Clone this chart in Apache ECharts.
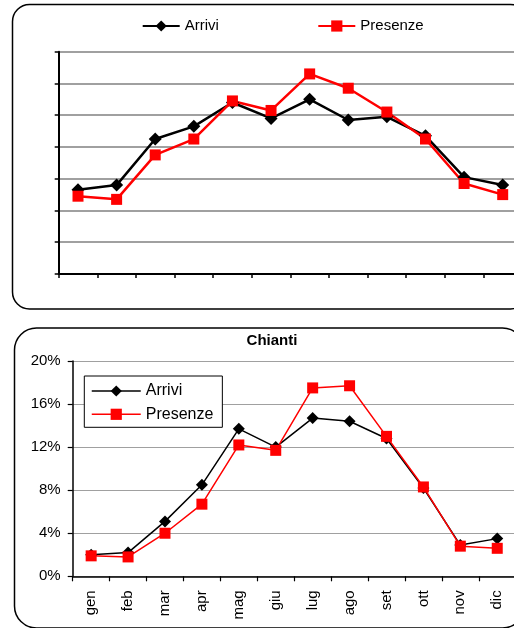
<!DOCTYPE html>
<html>
<head>
<meta charset="utf-8">
<script src="https://cdn.jsdelivr.net/npm/echarts@6/dist/echarts.min.js"></script>
<style>
html,body{margin:0;padding:0;background:#fff;overflow:hidden;width:514px;height:628px;}
#chart{width:540px;height:628px;}
</style>
</head>
<body>
<div id="chart"></div>
<script>
// Data
const months = ['gen','feb','mar','apr','mag','giu','lug','ago','set','ott','nov','dic'];
const topArrivi   = [5.3, 5.6, 8.5, 9.3, 10.8, 9.8, 11.0, 9.7, 9.9, 8.7, 6.1, 5.6];
const topPresenze = [4.9, 4.7, 7.5, 8.5, 10.9, 10.3, 12.6, 11.7, 10.2, 8.5, 5.7, 5.0];
const chiantiArrivi   = [2.0, 2.2, 5.1, 8.5, 13.7, 12.0, 14.7, 14.4, 12.8, 8.2, 2.9, 3.5];
const chiantiPresenze = [1.9, 1.8, 4.0, 6.7, 12.2, 11.7, 17.5, 17.7, 13.0, 8.3, 2.8, 2.6];
const chiantiTitle = 'Chianti';
const seriesNames = ['Arrivi', 'Presenze'];

const FONT = '"Liberation Sans", Arial, sans-serif';
const chart = echarts.init(document.getElementById('chart'), null, {renderer: 'canvas'});

const option = {
  animation: false,
  backgroundColor: '#fff',
  textStyle: {fontFamily: FONT, color: '#000'},
  graphic: [
    {type: 'rect', shape: {x: 12.5, y: 4.5, width: 515, height: 304.5, r: 17},
     style: {fill: 'none', stroke: '#000', lineWidth: 1.5}, z: 0, silent: true},
    {type: 'rect', shape: {x: 14.5, y: 328, width: 510, height: 300, r: 22},
     style: {fill: 'none', stroke: '#000', lineWidth: 1.5}, z: 0, silent: true}
  ],
  title: {
    text: chiantiTitle, left: 272, top: 333, textAlign: 'center', padding: 0,
    textStyle: {fontFamily: FONT, fontSize: 15, fontWeight: 'bold', color: '#000'}
  },
  legend: [
    {data: [seriesNames[0]], left: 141.7, top: 18, padding: 0, itemWidth: 37, itemHeight: 14, itemGap: 0,
     textStyle: {fontFamily: FONT, fontSize: 15, color: '#000', lineHeight: 16}, selectedMode: false},
    {data: [seriesNames[1]], left: 317.3, top: 18, padding: 0, itemWidth: 37, itemHeight: 14, itemGap: 0,
     textStyle: {fontFamily: FONT, fontSize: 15, color: '#000', lineHeight: 16}, selectedMode: false},
    {data: [
        {name: seriesNames[0], lineStyle: {width: 1.5}},
        {name: seriesNames[1], lineStyle: {width: 1.5}}
     ],
     orient: 'vertical', left: 84.3, top: 376, padding: [6, 9, 4, 6.7], itemWidth: 49, itemHeight: 14, itemGap: 5.3,
     borderColor: '#000', borderWidth: 1, backgroundColor: '#fff',
     textStyle: {fontFamily: FONT, fontSize: 16, color: '#000', lineHeight: 18}, selectedMode: false}
  ],
  grid: [
    {left: 58.7, top: 51.7, width: 463.3, height: 222.3, containLabel: false},
    {left: 72.7, top: 361, width: 443, height: 215.3, containLabel: false}
  ],
  xAxis: [
    {type: 'category', gridIndex: 0, data: months, boundaryGap: true,
     axisLine: {lineStyle: {color: '#000', width: 2}},
     axisTick: {show: true, length: 4, lineStyle: {color: '#000', width: 1.5}},
     axisLabel: {show: false}, splitLine: {show: false}},
    {type: 'category', gridIndex: 1, data: months, boundaryGap: true,
     axisLine: {lineStyle: {color: '#000', width: 1.5}},
     axisTick: {show: true, length: 5, lineStyle: {color: '#000', width: 1.2}},
     axisLabel: {show: true, interval: 0, rotate: 90, margin: 14, fontSize: 15, fontFamily: FONT, color: '#000'},
     splitLine: {show: false}}
  ],
  yAxis: [
    {type: 'value', gridIndex: 0, min: 0, max: 14, interval: 2,
     axisLine: {show: true, lineStyle: {color: '#000', width: 2}},
     axisTick: {show: true, length: 4, lineStyle: {color: '#000', width: 1.5}},
     axisLabel: {show: false},
     splitLine: {show: true, lineStyle: {color: '#a0a0a0', width: 2}}},
    {type: 'value', gridIndex: 1, min: 0, max: 20, interval: 4,
     axisLine: {show: true, lineStyle: {color: '#000', width: 1.5}},
     axisTick: {show: true, length: 5, lineStyle: {color: '#000', width: 1.2}},
     axisLabel: {show: true, margin: 12, fontSize: 15, fontFamily: FONT, color: '#000', formatter: '{value}%'},
     splitLine: {show: true, lineStyle: {color: '#a0a0a0', width: 1}}}
  ],
  series: [
    {name: seriesNames[0], type: 'line', xAxisIndex: 0, yAxisIndex: 0, data: topArrivi,
     symbol: 'diamond', symbolSize: 13, showAllSymbol: true,
     lineStyle: {color: '#000', width: 2.5}, itemStyle: {color: '#000'}, emphasis: {disabled: true}},
    {name: seriesNames[1], type: 'line', xAxisIndex: 0, yAxisIndex: 0, data: topPresenze,
     symbol: 'rect', symbolSize: 11, showAllSymbol: true,
     lineStyle: {color: '#ff0000', width: 2.5}, itemStyle: {color: '#ff0000'}, emphasis: {disabled: true}},
    {name: seriesNames[0], type: 'line', xAxisIndex: 1, yAxisIndex: 1, data: chiantiArrivi,
     symbol: 'diamond', symbolSize: 12, showAllSymbol: true,
     lineStyle: {color: '#000', width: 1.5}, itemStyle: {color: '#000'}, emphasis: {disabled: true}},
    {name: seriesNames[1], type: 'line', xAxisIndex: 1, yAxisIndex: 1, data: chiantiPresenze,
     symbol: 'rect', symbolSize: 11, showAllSymbol: true,
     lineStyle: {color: '#ff0000', width: 1.5}, itemStyle: {color: '#ff0000'}, emphasis: {disabled: true}}
  ]
};
chart.setOption(option);
</script>
</body>
</html>
